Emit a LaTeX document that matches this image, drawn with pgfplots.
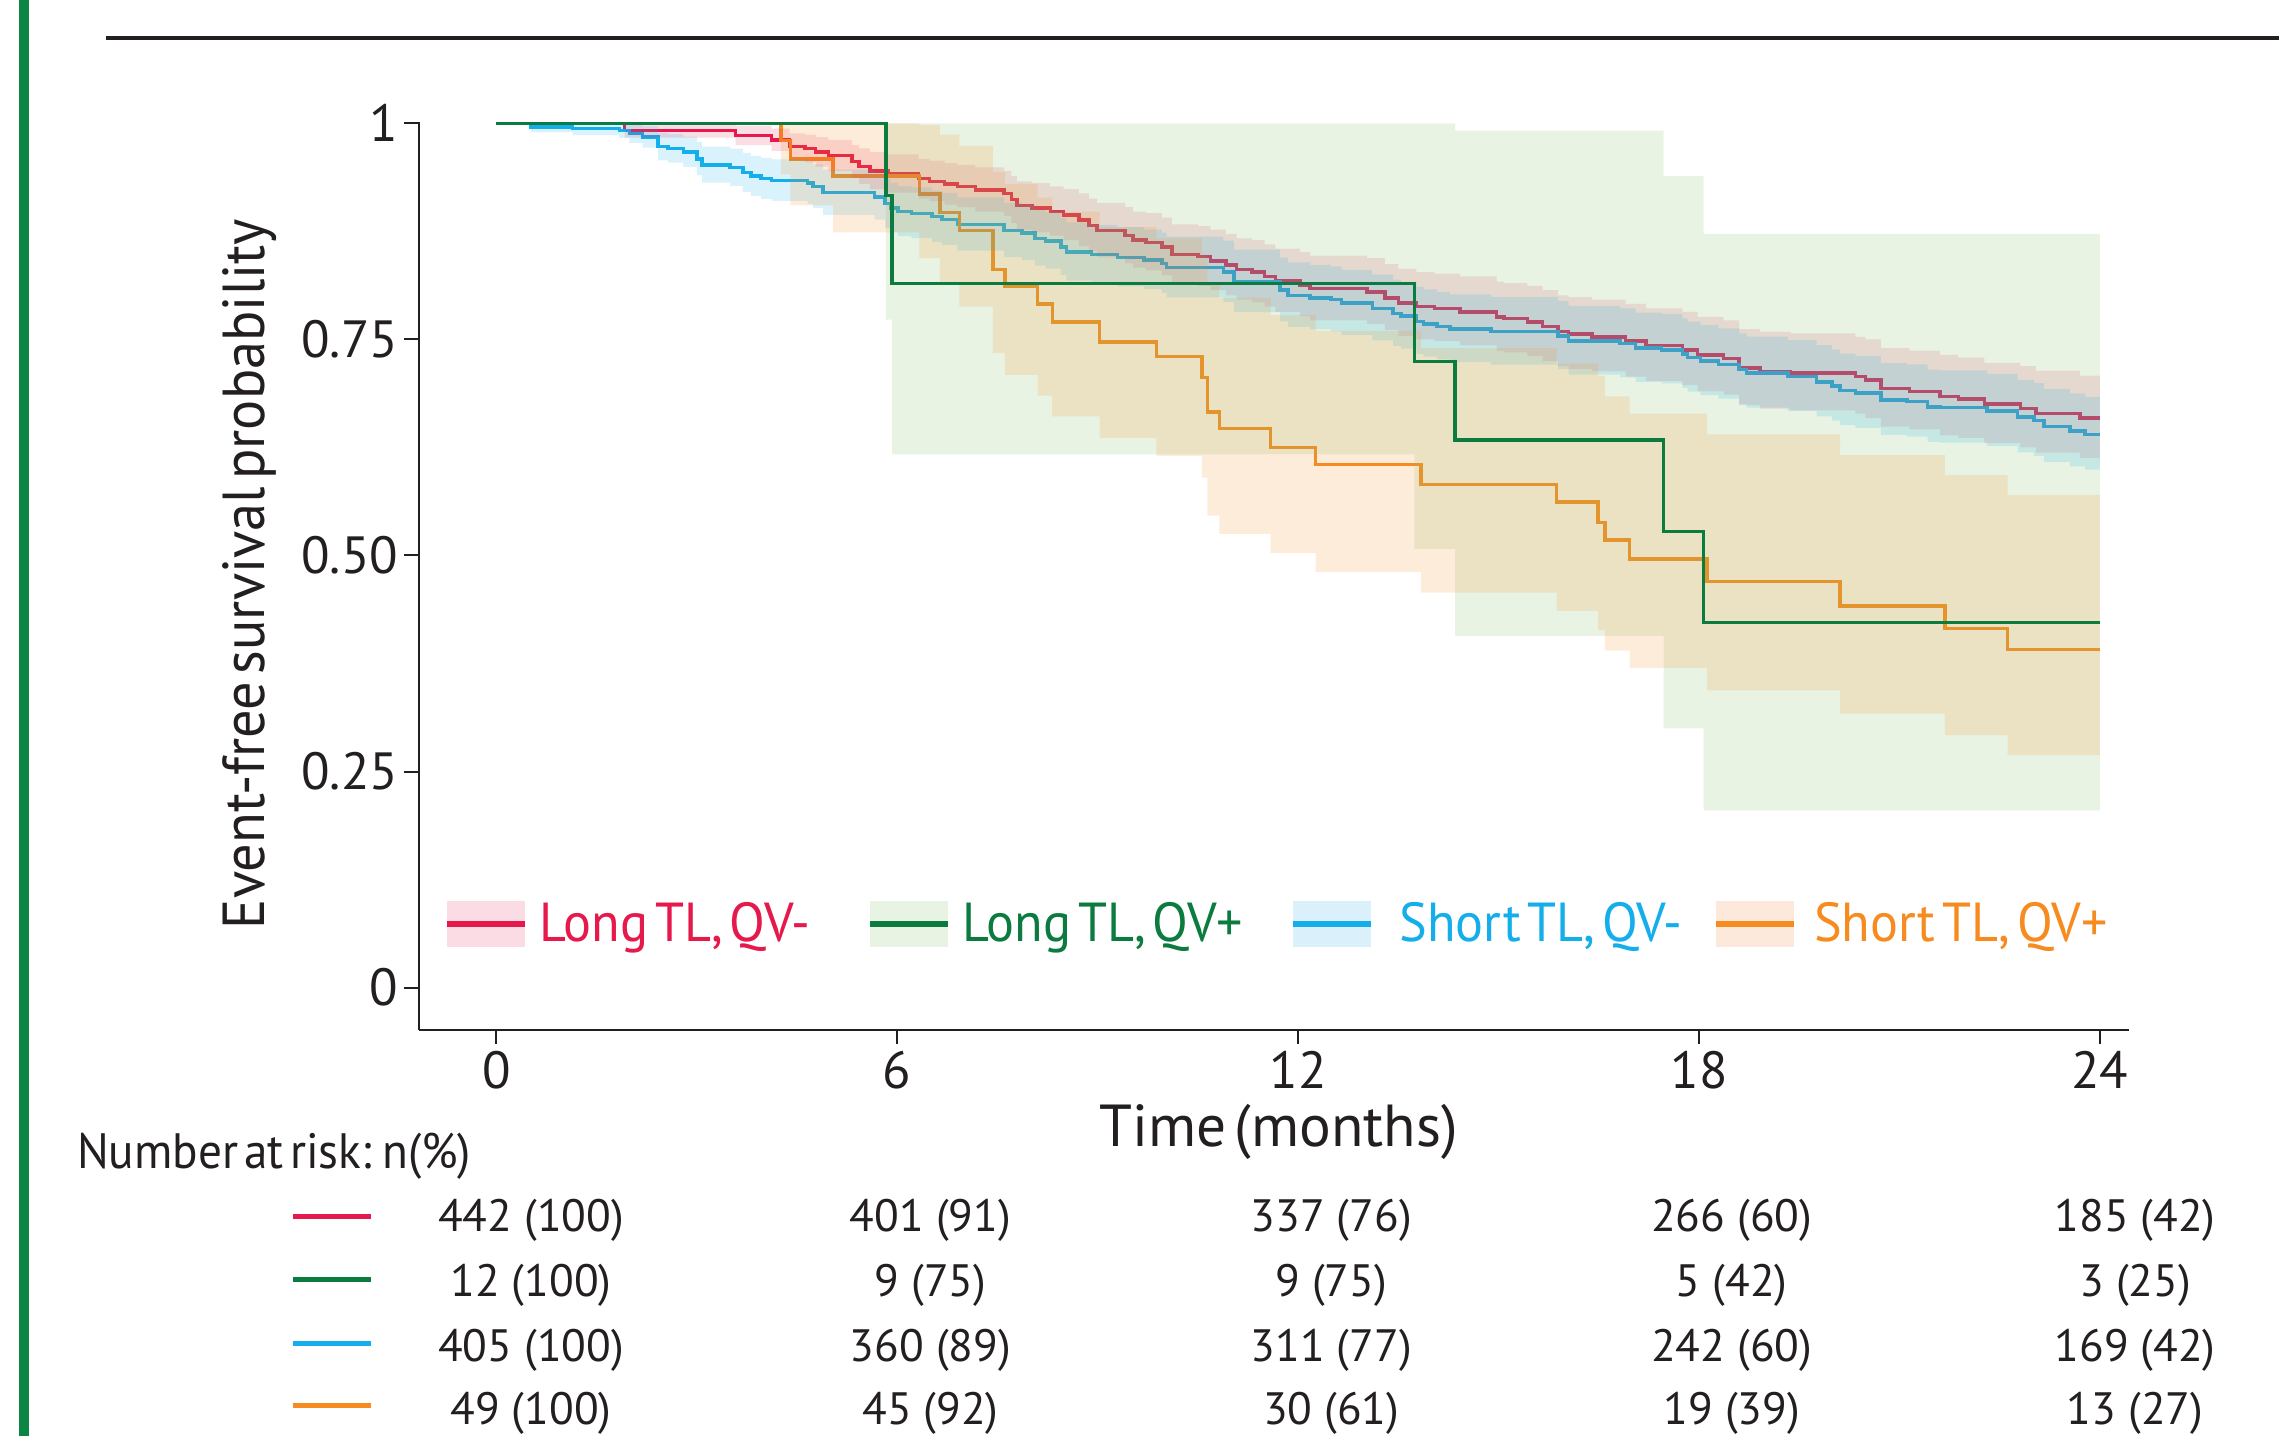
\documentclass[border=0pt]{standalone}
\usepackage{fontspec}
\setmainfont{PT Sans}
\newfontfamily\cond{PT Sans}[FakeStretch=0.95, WordSpace=0.5]
\newfontfamily\condb{PT Sans}[WordSpace=0.5]
\usepackage{pgfplots}
\pgfplotsset{compat=1.18}
\usepackage{pgfplotstable}
\usepgfplotslibrary{fillbetween}

\definecolor{cred}{HTML}{E5194B}
\definecolor{cgreen}{HTML}{0B7B3F}
\definecolor{cblue}{HTML}{14AEEA}
\definecolor{corange}{HTML}{F68B1F}
\definecolor{fgreen}{HTML}{8CC373}
\definecolor{txt}{HTML}{231F20}
\definecolor{lpink}{HTML}{FBDCE4}
\definecolor{lgreen}{HTML}{E8F3E3}
\definecolor{lblue}{HTML}{DAF1FB}
\definecolor{lpeach}{HTML}{FDE9DB}
\definecolor{barg}{HTML}{0B8444}

% Long TL, QV-
\pgfplotstableread{
t s lo hi
0 1 1 1
1.92 0.992 0.9836 1
3.58 0.986 0.9749 0.9972
4.12 0.981 0.9682 0.9940
4.39 0.973 0.9578 0.9884
4.62 0.971 0.955 0.987
4.78 0.967 0.950 0.984
4.97 0.963 0.945 0.981
5.32 0.956 0.937 0.975
5.43 0.950 0.930 0.971
5.59 0.945 0.924 0.967
5.86 0.942 0.920 0.964
6.32 0.936 0.913 0.959
6.48 0.933 0.910 0.957
6.71 0.930 0.906 0.954
6.90 0.927 0.903 0.952
7.17 0.923 0.898 0.949
7.60 0.919 0.893 0.945
7.71 0.912 0.885 0.939
7.79 0.905 0.877 0.933
8.02 0.902 0.874 0.931
8.29 0.898 0.870 0.927
8.49 0.894 0.865 0.924
8.72 0.888 0.858 0.919
8.87 0.882 0.852 0.913
8.99 0.876 0.845 0.908
9.41 0.870 0.838 0.903
9.53 0.865 0.833 0.898
9.72 0.862 0.830 0.896
9.96 0.857 0.824 0.891
10.11 0.848 0.814 0.883
10.50 0.846 0.812 0.881
10.69 0.841 0.807 0.877
10.92 0.836 0.801 0.872
11.08 0.831 0.796 0.867
11.31 0.828 0.793 0.865
11.50 0.823 0.788 0.860
11.66 0.818 0.782 0.855
12.03 0.813 0.777 0.851
12.18 0.809 0.772 0.847
13.03 0.805 0.768 0.844
13.30 0.798 0.761 0.837
13.50 0.792 0.754 0.832
13.77 0.788 0.750 0.828
14.04 0.786 0.748 0.826
14.42 0.782 0.743 0.823
14.97 0.776 0.737 0.817
15.08 0.774 0.735 0.815
15.43 0.770 0.731 0.812
15.66 0.765 0.725 0.807
15.89 0.759 0.719 0.801
16.05 0.756 0.716 0.799
16.40 0.753 0.713 0.796
16.90 0.748 0.707 0.791
17.21 0.743 0.702 0.786
17.75 0.738 0.697 0.782
17.98 0.732 0.690 0.776
18.37 0.728 0.686 0.772
18.60 0.717 0.674 0.762
18.91 0.713 0.670 0.759
19.37 0.711 0.668 0.757
20.34 0.707 0.664 0.753
20.49 0.703 0.659 0.750
20.72 0.693 0.649 0.740
21.15 0.690 0.646 0.737
21.61 0.684 0.639 0.732
21.88 0.681 0.636 0.729
22.27 0.675 0.630 0.723
22.81 0.670 0.625 0.719
23.04 0.6645 0.619 0.714
23.70 0.659 0.613 0.708
24.00 0.659 0.613 0.708
}\tabred

% Long TL, QV+
\pgfplotstableread{
t s lo hi
0 1 1 1
5.83 0.9167 0.773 1
5.92 0.8148 0.617 1
13.74 0.7243 0.5075 1
14.35 0.6338 0.407 0.9915
17.47 0.528 0.300 0.939
18.07 0.4225 0.205 0.872
24.00 0.4225 0.205 0.872
}\tabgreen

% Short TL, QV-
\pgfplotstableread{
t s lo hi
0 1 1 1
0.52 0.996 0.9898 1
1.14 0.994 0.9864 1
1.84 0.992 0.9833 1
1.99 0.988 0.9774 0.9988
2.19 0.984 0.9718 0.9964
2.42 0.973 0.9573 0.9890
2.57 0.971 0.9547 0.9876
2.80 0.967 0.9497 0.9846
3.00 0.959 0.9398 0.9786
3.08 0.952 0.9314 0.9731
3.50 0.949 0.9278 0.9707
3.69 0.943 0.9207 0.9658
3.81 0.939 0.9161 0.9625
3.96 0.936 0.9126 0.9600
4.12 0.934 0.9102 0.9584
4.66 0.931 0.9068 0.9559
4.74 0.927 0.9022 0.9525
4.89 0.920 0.8942 0.9466
5.66 0.915 0.8885 0.9423
5.82 0.907 0.8795 0.9354
5.90 0.902 0.8739 0.9310
6.01 0.898 0.8694 0.9275
6.21 0.896 0.8672 0.9258
6.52 0.892 0.8628 0.9222
6.67 0.889 0.8594 0.9196
6.90 0.883 0.8528 0.9143
7.60 0.876 0.8451 0.9080
7.87 0.873 0.8418 0.9053
8.06 0.867 0.8353 0.8999
8.22 0.864 0.8320 0.8972
8.45 0.857 0.8244 0.8908
8.53 0.851 0.8180 0.8854
8.91 0.848 0.8147 0.8826
9.30 0.845 0.8115 0.8799
9.69 0.842 0.8083 0.8771
9.96 0.838 0.8040 0.8735
10.03 0.833 0.7986 0.8689
10.88 0.828 0.7933 0.8642
11.04 0.817 0.7816 0.8540
11.73 0.807 0.7710 0.8447
11.85 0.801 0.7646 0.8391
12.18 0.798 0.7615 0.8363
12.49 0.796 0.7594 0.8344
12.65 0.792 0.7552 0.8306
13.11 0.786 0.7489 0.8250
13.42 0.780 0.7426 0.8193
13.54 0.777 0.7394 0.8165
13.77 0.771 0.7332 0.8108
13.88 0.768 0.7301 0.8079
14.08 0.765 0.7269 0.8051
14.27 0.762 0.7238 0.8022
14.89 0.759 0.7207 0.7993
15.89 0.754 0.7155 0.7946
16.05 0.748 0.7093 0.7888
16.82 0.745 0.7062 0.7859
17.05 0.740 0.7010 0.7811
17.44 0.738 0.6990 0.7792
17.75 0.733 0.6938 0.7744
17.83 0.729 0.6897 0.7706
18.02 0.725 0.6856 0.7667
18.29 0.721 0.6815 0.7628
18.60 0.715 0.6753 0.7570
18.71 0.711 0.6712 0.7532
19.33 0.707 0.6671 0.7493
19.76 0.701 0.6610 0.7434
19.99 0.696 0.6559 0.7386
20.11 0.691 0.6508 0.7337
20.34 0.688 0.6477 0.7308
20.72 0.680 0.6396 0.7230
21.11 0.678 0.6376 0.7210
21.42 0.672 0.6315 0.7151
21.61 0.671 0.6305 0.7141
22.31 0.667 0.6264 0.7102
22.77 0.660 0.6193 0.7033
23.01 0.656 0.6153 0.6994
23.16 0.649 0.6083 0.6925
23.55 0.644 0.6032 0.6875
23.78 0.640 0.5992 0.6836
24.00 0.640 0.5992 0.6836
}\tabblue

% Short TL, QV+
\pgfplotstableread{
t s lo hi
0 1 1 1
4.26 0.980 0.941 1
4.40 0.959 0.905 1
5.04 0.939 0.874 1
6.33 0.918 0.844 0.998
6.64 0.897 0.816 0.987
6.93 0.876 0.788 0.974
7.43 0.831 0.734 0.944
7.61 0.812 0.709 0.930
8.10 0.791 0.685 0.914
8.32 0.770 0.661 0.898
9.03 0.747 0.636 0.880
9.88 0.730 0.615 0.867
10.56 0.706 0.590 0.847
10.64 0.666 0.546 0.813
10.82 0.647 0.525 0.798
11.59 0.625 0.503 0.778
12.26 0.605 0.481 0.760
13.84 0.582 0.457 0.740
15.87 0.562 0.436 0.722
16.49 0.538 0.414 0.708
16.59 0.518 0.390 0.684
16.96 0.496 0.370 0.664
18.12 0.470 0.344 0.640
20.11 0.4415 0.317 0.616
21.68 0.4157 0.292 0.593
22.62 0.3914 0.269 0.570
24.00 0.3914 0.269 0.570
}\taborange

\begin{document}
\begin{tikzpicture}
\begin{scope}[x=0.5pt,y=-0.5pt]
\useasboundingbox (0,0) rectangle (1568,988);
\fill[barg] (13,0) rectangle (20,988);
\draw[line width=1.3pt, txt] (73,26) -- (1568,26);
\end{scope}

\begin{axis}[
  at={(144.15pt,-354.3pt)}, anchor=south west,
  scale only axis, width=588.35pt, height=312.45pt,
  xmin=-1.157, xmax=24.44, ymin=-0.049, ymax=1.002,
  axis x line*=bottom, axis y line*=left,
  axis line style={line width=0.7pt, color=txt, -},
  xtick={0,6,12,18,24}, xticklabels={0,6,12,18,24},
  ytick={0,0.25,0.5,0.75,1}, yticklabels={0,0.25,0.50,0.75,1},
  tick align=outside, major tick length=5pt,
  tick style={line width=0.7pt, color=txt},
  ticklabel style={font=\fontsize{18}{18}\selectfont, text=txt, inner sep=2pt},
  set layers,
]
\addplot[cred, line width=1.2pt, const plot, on layer=pre main] table[x=t,y=s]{\tabred};
\addplot[cblue, line width=1.2pt, const plot, on layer=pre main] table[x=t,y=s]{\tabblue};
\addplot[corange, line width=1.2pt, const plot, on layer=pre main] table[x=t,y=s]{\taborange};

\addplot[draw=none, name path=rhi, const plot, forget plot] table[x=t,y=hi]{\tabred};
\addplot[draw=none, name path=rlo, const plot, forget plot] table[x=t,y=lo]{\tabred};
\addplot[draw=none, name path=ghi, const plot, forget plot] table[x=t,y=hi]{\tabgreen};
\addplot[draw=none, name path=glo, const plot, forget plot] table[x=t,y=lo]{\tabgreen};
\addplot[draw=none, name path=bhi, const plot, forget plot] table[x=t,y=hi]{\tabblue};
\addplot[draw=none, name path=blo, const plot, forget plot] table[x=t,y=lo]{\tabblue};
\addplot[draw=none, name path=ohi, const plot, forget plot] table[x=t,y=hi]{\taborange};
\addplot[draw=none, name path=olo, const plot, forget plot] table[x=t,y=lo]{\taborange};

\addplot[fill=cred, fill opacity=0.15, draw=none] fill between[of=rhi and rlo];
\addplot[fill=fgreen, fill opacity=0.2, draw=none] fill between[of=ghi and glo];
\addplot[fill=cblue, fill opacity=0.16, draw=none] fill between[of=bhi and blo];
\addplot[fill=corange, fill opacity=0.16, draw=none] fill between[of=ohi and olo];

\addplot[cgreen, line width=1.2pt, const plot, on layer=pre main] table[x=t,y=s]{\tabgreen};
\end{axis}

\begin{scope}[x=0.5pt,y=-0.5pt]
% axis titles
\node[anchor=base, text=txt, font=\condb\fontsize{20.4}{22}\selectfont, inner sep=0pt] at (879.7,788.9) {Time (months)};
\node[rotate=90, anchor=base, text=txt, font=\cond\fontsize{20.4}{22}\selectfont, inner sep=0pt] at (182,395) {Event-free survival probability};
% legend
\tikzset{lg/.style={anchor=base west, inner sep=0pt, font=\cond\fontsize{18.9}{20}\selectfont}}
\fill[lpink] (307.5,619.7) rectangle (361,651.3);
\draw[cred, line width=2pt] (307.5,635.5) -- (361,635.5);
\node[lg, text=cred] at (371,648) {Long TL, QV-};
\fill[lgreen] (598.6,619.7) rectangle (652.2,651.3);
\draw[cgreen, line width=2pt] (598.6,635.5) -- (652.2,635.5);
\node[lg, text=cgreen] at (662,648) {Long TL, QV+};
\fill[lblue] (889.6,619.7) rectangle (943.3,651.3);
\draw[cblue, line width=2pt] (889.6,635.5) -- (943.3,635.5);
\node[lg, text=cblue] at (962.5,648) {Short TL, QV-};
\fill[lpeach] (1180.6,619.7) rectangle (1234.3,651.3);
\draw[corange, line width=2pt] (1180.6,635.5) -- (1234.3,635.5);
\node[lg, text=corange] at (1247.8,648) {Short TL, QV+};
% number at risk
\node[anchor=base west, inner sep=0pt, text=txt, font=\cond\fontsize{17.1}{19}\selectfont] at (52.6,803.8) {Number at risk: n(\%)};
\draw[cred, line width=1.7pt] (201.6,837) -- (255.3,837);
\draw[cgreen, line width=1.7pt] (201.6,880.6) -- (255.3,880.6);
\draw[cblue, line width=1.7pt] (201.6,924.2) -- (255.3,924.2);
\draw[corange, line width=1.7pt] (201.6,967.3) -- (255.3,967.3);
\tikzset{rk/.style={anchor=base, inner sep=0pt, text=txt, font=\fontsize{15.6}{17}\selectfont}}
\node[rk] at (365.3,847.4) {442 (100)};
\node[rk] at (640.2,847.4) {401 (91)};
\node[rk] at (915.9,847.4) {337 (76)};
\node[rk] at (1191.5,847.4) {266 (60)};
\node[rk] at (1469,847.4) {185 (42)};
\node[rk] at (365.3,892.1) {12 (100)};
\node[rk] at (640.2,892.1) {9 (75)};
\node[rk] at (915.9,892.1) {9 (75)};
\node[rk] at (1191.5,892.1) {5 (42)};
\node[rk] at (1469,892.1) {3 (25)};
\node[rk] at (365.3,936.8) {405 (100)};
\node[rk] at (640.2,936.8) {360 (89)};
\node[rk] at (915.9,936.8) {311 (77)};
\node[rk] at (1191.5,936.8) {242 (60)};
\node[rk] at (1469,936.8) {169 (42)};
\node[rk] at (365.3,980.4) {49 (100)};
\node[rk] at (640.2,980.4) {45 (92)};
\node[rk] at (915.9,980.4) {30 (61)};
\node[rk] at (1191.5,980.4) {19 (39)};
\node[rk] at (1469,980.4) {13 (27)};
\end{scope}
\end{tikzpicture}
\end{document}
